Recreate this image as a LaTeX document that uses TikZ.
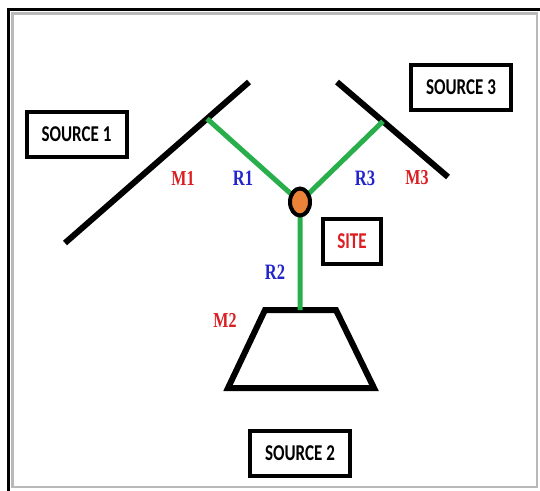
\documentclass[tikz,border=0pt]{standalone}
\usepackage{graphicx}
\usepackage{fontspec}
\setmainfont{Liberation Serif}
\newfontfamily\boxfont{Carlito}
\usetikzlibrary{shapes.geometric, calc}

\definecolor{mred}{RGB}{220,30,35}
\definecolor{rblue}{RGB}{35,35,205}
\definecolor{rgreen}{RGB}{40,175,75}
\definecolor{sorange}{RGB}{235,130,55}
\newcommand{\tall}[1]{\scalebox{1}[1.33]{#1}}

\begin{document}
\begin{tikzpicture}[x=1pt,y=-1pt]

\tikzset{srcbox/.style = {draw, line width=4pt, minimum width=100pt, minimum height=45pt, font=\boxfont\bfseries\fontsize{17}{17}\selectfont}}
\tikzset{mirror/.style = {line width=6pt}}
\tikzset{ray/.style = {draw=rgreen, line width=5pt}}
\tikzset{mlabel/.style = {text=mred, font=\bfseries\fontsize{16}{16}\selectfont}}
\tikzset{rlabel/.style = {text=rblue, font=\bfseries\fontsize{16.5}{16.5}\selectfont}}

\useasboundingbox (0,0) rectangle (540,490);
% frame
\draw[gray!55, line width=2.5pt] (12.5,13.5) rectangle (537,487);
\draw[line width=3pt] (8.5,9.5) rectangle (550,502);

% sources
\node[srcbox] (s1) at (76.5,134.5) {\tall{SOURCE 1}};
\node[srcbox] (s3) at (461,87.5) {\tall{SOURCE 3}};
\node[srcbox] (s2) at (300,453.5) {\tall{SOURCE 2}};
\node[srcbox, minimum width=58pt, text=mred] (sitebox) at (352,241.5) {\tall{SITE}};

% mirrors
\coordinate (m1a) at (65,243);
\coordinate (m1b) at (249,82);
\coordinate (m3a) at (337,82);
\coordinate (m3b) at (448,177);
\coordinate (m2tl) at (265,310);
\coordinate (m2tr) at (336,310);
\coordinate (m2br) at (374,388);
\coordinate (m2bl) at (228,388);
\draw[mirror] (m1a) -- (m1b);
\draw[mirror] (m3a) -- (m3b);
\draw[mirror, line join=miter] (m2tl) -- (m2tr) -- (m2br) -- (m2bl) -- cycle;

% rays
\coordinate (sitec) at (300,202);
\coordinate (p1) at ($(m1a)!0.772!(m1b)$);
\coordinate (p3) at ($(m3a)!0.414!(m3b)$);
\coordinate (p2) at ($(m2tl)!0.493!(m2tr)$);
\draw[ray] (p1) -- (sitec);
\draw[ray] (p3) -- (sitec);
\draw[ray] (sitec) -- (p2);

% site
\node[ellipse, draw, line width=4pt, fill=sorange, minimum width=20pt, minimum height=27pt, inner sep=0pt] (site) at (sitec) {};

% labels
\node[mlabel] (lm1) at (183,178) {\tall{M1}};
\node[rlabel] (lr1) at (243,178) {\tall{R1}};
\node[rlabel] (lr3) at (365,178) {\tall{R3}};
\node[mlabel] (lm3) at (417,178) {\tall{M3}};
\node[rlabel] (lr2) at (275,272) {\tall{R2}};
\node[mlabel] (lm2) at (225,320) {\tall{M2}};
\end{tikzpicture}
\end{document}
